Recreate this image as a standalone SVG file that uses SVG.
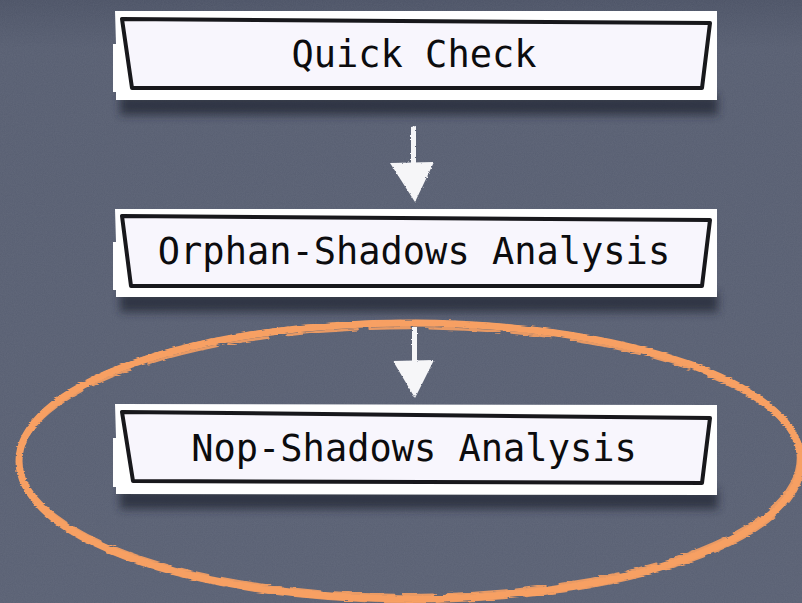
<svg xmlns="http://www.w3.org/2000/svg" width="802" height="603" viewBox="0 0 802 603">
  <defs>
    <style>
      .frame { fill: #ffffff; }
      .panel { fill: #f8f6fd; stroke: #18181c; stroke-width: 4; stroke-linejoin: round; }
      .label { font-family: "DejaVu Sans Mono", "Liberation Mono", monospace; font-size: 37px; fill: #0c0c0e; text-anchor: middle; }
      .chalk { fill: #f6f6f8; }
      .brush { fill: none; stroke: #f7a063; stroke-linecap: round; }
    </style>
    <linearGradient id="board" x1="0" y1="0" x2="0" y2="1">
      <stop offset="0" stop-color="#4c5366"/>
      <stop offset="0.08" stop-color="#575e71"/>
      <stop offset="1" stop-color="#596073"/>
    </linearGradient>
    <filter id="grain" x="0" y="0" width="100%" height="100%">
      <feTurbulence type="fractalNoise" baseFrequency="0.9" numOctaves="2" seed="4" result="n"/>
      <feColorMatrix in="n" type="matrix" values="0 0 0 0 0.5  0 0 0 0 0.52  0 0 0 0 0.58  0 0 0 0.10 0"/>
    </filter>
    <filter id="shade" x="-10%" y="-50%" width="120%" height="200%">
      <feGaussianBlur stdDeviation="4"/>
    </filter>
    <filter id="rough" x="-20%" y="-20%" width="140%" height="140%">
      <feTurbulence type="fractalNoise" baseFrequency="0.6" numOctaves="2" seed="7" result="t"/>
      <feDisplacementMap in="SourceGraphic" in2="t" scale="2.5" xChannelSelector="R" yChannelSelector="G"/>
    </filter>
    <filter id="scratch" x="-5%" y="-5%" width="110%" height="110%">
      <feTurbulence type="fractalNoise" baseFrequency="0.05 0.9" numOctaves="2" seed="3" result="t"/>
      <feDisplacementMap in="SourceGraphic" in2="t" scale="3" xChannelSelector="R" yChannelSelector="G"/>
    </filter>
  </defs>

  <!-- chalkboard -->
  <rect width="802" height="603" fill="url(#board)"/>
  <rect width="802" height="603" filter="url(#grain)"/>

  <!-- step boxes -->
  <g id="quick-check">
    <rect x="120" y="95" width="598" height="20" fill="#232835" opacity="0.75" filter="url(#shade)"/>
    <path class="frame" d="M115 11 L717 11 L717 100 L116 100 L116 92 L113 92 L113 44 L116 44 Z"/>
    <path class="panel" d="M122 19 L710 23 L702 88 L132 88 Z"/>
    <text class="label" x="414" y="67">Quick Check</text>
  </g>

  <g id="orphan-shadows-analysis">
    <rect x="120" y="292" width="598" height="20" fill="#232835" opacity="0.75" filter="url(#shade)"/>
    <path class="frame" d="M115 209 L717 209 L717 297 L116 297 L116 290 L113 290 L113 242 L116 242 Z"/>
    <path class="panel" d="M122 216 L710 220 L702 286 L131 286 Z"/>
    <text class="label" x="414" y="264">Orphan-Shadows Analysis</text>
  </g>

  <g id="nop-shadows-analysis">
    <rect x="120" y="489" width="598" height="20" fill="#232835" opacity="0.75" filter="url(#shade)"/>
    <path class="frame" d="M115 404 L717 405 L717 495 L116 494 L116 487 L113 487 L113 438 L116 438 Z"/>
    <path class="panel" d="M122 412 L710 418 L702 483 L133 481 Z"/>
    <text class="label" x="414" y="461">Nop-Shadows Analysis</text>
  </g>

  <!-- connectors -->
  <g id="connectors" filter="url(#rough)">
    <g id="quick-to-orphan">
      <path class="chalk" d="M411 127 L416 126 L416 163 L411 163 Z"/>
      <path class="chalk" d="M390 163 L434 162 L415 202 Z"/>
    </g>
    <g id="orphan-to-nop">
      <path class="chalk" d="M412 327 L417 327 L417 361 L412 361 Z"/>
      <path class="chalk" d="M393 361 L434 360 L415 398 Z"/>
    </g>
  </g>

  <!-- highlight ring round the last step -->
  <g id="highlight" filter="url(#scratch)">
    <ellipse class="brush" cx="410" cy="461" rx="391" ry="138" stroke-width="7"/>
    <ellipse class="brush" cx="409" cy="458" rx="389" ry="137" stroke-width="2.5" stroke-dasharray="60 14 30 9" opacity="0.9"/>
    <ellipse class="brush" cx="411" cy="465" rx="392" ry="137" stroke-width="2.5" stroke-dasharray="40 20 70 12" opacity="0.9"/>
  </g>
</svg>
